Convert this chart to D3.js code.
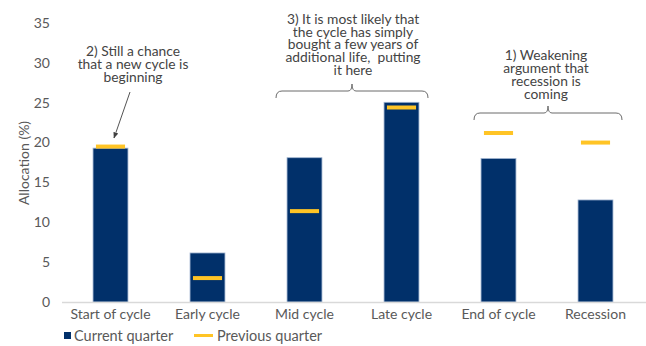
<!DOCTYPE html>
<html>
<head>
<meta charset="utf-8">
<script src="https://cdn.jsdelivr.net/npm/d3@7"></script>
<style>
  html, body { margin: 0; padding: 0; background: #fff; }
  svg { display: block; font-family: Lato, "Open Sans", sans-serif; }
</style>
</head>
<body>
<svg id="chart" width="646" height="346"></svg>
<script>
// Cycle phases and allocations (%)
const categories = ["Start of cycle", "Early cycle", "Mid cycle", "Late cycle", "End of cycle", "Recession"];
const currentQuarter = [19.3, 6.15, 18.1, 25.05, 18.0, 12.8];
const previousQuarter = [19.5, 3.0, 11.4, 24.4, 21.2, 20.0];
const yTicks = [0, 5, 10, 15, 20, 25, 30, 35];

const svg = d3.select("#chart");
const navy = "#01306a";
const gold = "#ffc425";
const textGrey = "#595959";

const x = d3.scaleBand().domain(categories).range([62, 644]).padding(0);
const y = d3.scaleLinear().domain([0, 35]).range([302, 23]);
const barW = x.bandwidth() * 0.36;
const markW = x.bandwidth() * 0.30;

// y tick labels
svg.append("g")
  .selectAll("text")
  .data(yTicks)
  .join("text")
  .attr("x", 50)
  .attr("y", d => y(d))
  .attr("dy", "0.35em")
  .attr("text-anchor", "end")
  .attr("font-size", 14)
  .attr("fill", textGrey)
  .text(d => d);

// y axis title
svg.append("text")
  .attr("transform", "translate(24,163) rotate(-90)")
  .attr("text-anchor", "middle")
  .attr("dy", "0.35em")
  .attr("font-size", 14)
  .attr("fill", textGrey)
  .text("Allocation (%)");

// bars: current quarter
svg.append("g")
  .selectAll("rect")
  .data(categories)
  .join("rect")
  .attr("x", d => x(d) + x.bandwidth() / 2 - barW / 2)
  .attr("y", (d, i) => y(currentQuarter[i]))
  .attr("width", barW)
  .attr("height", (d, i) => y(0) - y(currentQuarter[i]))
  .attr("fill", navy)
  .attr("stroke", "#9fb3cf")
  .attr("stroke-width", 0.8);

// baseline
svg.append("line")
  .attr("x1", 62).attr("x2", 646)
  .attr("y1", y(0) + 0.5).attr("y2", y(0) + 0.5)
  .attr("stroke", "#d9d9d9")
  .attr("stroke-width", 1.5);

// markers: previous quarter
svg.append("g")
  .selectAll("rect")
  .data(categories)
  .join("rect")
  .attr("x", d => x(d) + x.bandwidth() / 2 - markW / 2)
  .attr("y", (d, i) => y(previousQuarter[i]) - 2)
  .attr("width", markW)
  .attr("height", 4)
  .attr("fill", gold);

// x category labels
svg.append("g")
  .selectAll("text")
  .data(categories)
  .join("text")
  .attr("x", d => x(d) + x.bandwidth() / 2)
  .attr("y", 314)
  .attr("dy", "0.35em")
  .attr("text-anchor", "middle")
  .attr("font-size", 14)
  .attr("fill", textGrey)
  .text(d => d);

// legend
const leg = svg.append("g");
leg.append("rect").attr("x", 64).attr("y", 332).attr("width", 7).attr("height", 7).attr("fill", navy);
leg.append("text").attr("x", 74).attr("y", 336).attr("dy", "0.35em")
  .attr("font-size", 14.5).attr("fill", textGrey).text("Current quarter");
leg.append("rect").attr("x", 194).attr("y", 334).attr("width", 19).attr("height", 3).attr("fill", gold);
leg.append("text").attr("x", 217).attr("y", 336).attr("dy", "0.35em")
  .attr("font-size", 14.5).attr("fill", textGrey).text("Previous quarter");

// annotations
const noteColor = "#444";
function note(lines, cx, cy0, lh) {
  const t = svg.append("text")
    .attr("text-anchor", "middle")
    .attr("font-size", 13.8)
    .attr("fill", noteColor)
    .style("white-space", "pre");
  lines.forEach((s, i) => {
    t.append("tspan").attr("x", cx).attr("y", cy0 + i * lh).attr("dy", "0.35em").text(s);
  });
}
note(["2) Still a chance", "that a new cycle is", "beginning"], 133, 51, 12.9);
note(["3) It is most likely that", "the cycle has simply", "bought a few years of", "additional life,  putting", "it here"], 353, 19, 12.8);
note(["1) Weakening", "argument that", "recession is", "coming"], 546, 55, 12.9);

// arrow to start-of-cycle bar
svg.append("defs").append("marker")
  .attr("id", "arrowhead")
  .attr("viewBox", "0 0 10 10")
  .attr("refX", 9).attr("refY", 5)
  .attr("markerWidth", 7).attr("markerHeight", 7)
  .attr("orient", "auto")
  .append("path")
  .attr("d", "M0,1 L10,5 L0,9 Z")
  .attr("fill", "#404040");
svg.append("line")
  .attr("x1", 130).attr("y1", 92)
  .attr("x2", 114).attr("y2", 138)
  .attr("stroke", "#404040")
  .attr("stroke-width", 0.9)
  .attr("marker-end", "url(#arrowhead)");

// curly braces over groups of phases
function brace(x0, x1, yTop, yEnd, yPeak) {
  const mid = (x0 + x1) / 2;
  const r = 6;
  const p = d3.path();
  p.moveTo(x0, yEnd);
  p.quadraticCurveTo(x0, yTop, x0 + r, yTop);
  p.lineTo(mid - 4, yTop);
  p.quadraticCurveTo(mid, yTop, mid, yPeak);
  p.quadraticCurveTo(mid, yTop, mid + 4, yTop);
  p.lineTo(x1 - r, yTop);
  p.quadraticCurveTo(x1, yTop, x1, yEnd);
  svg.append("path")
    .attr("d", p.toString())
    .attr("fill", "none")
    .attr("stroke", "#6b6b6b")
    .attr("stroke-width", 1);
}
brace(276, 428, 91, 98, 84);
brace(474, 622, 113, 120, 106);
</script>
</body>
</html>
